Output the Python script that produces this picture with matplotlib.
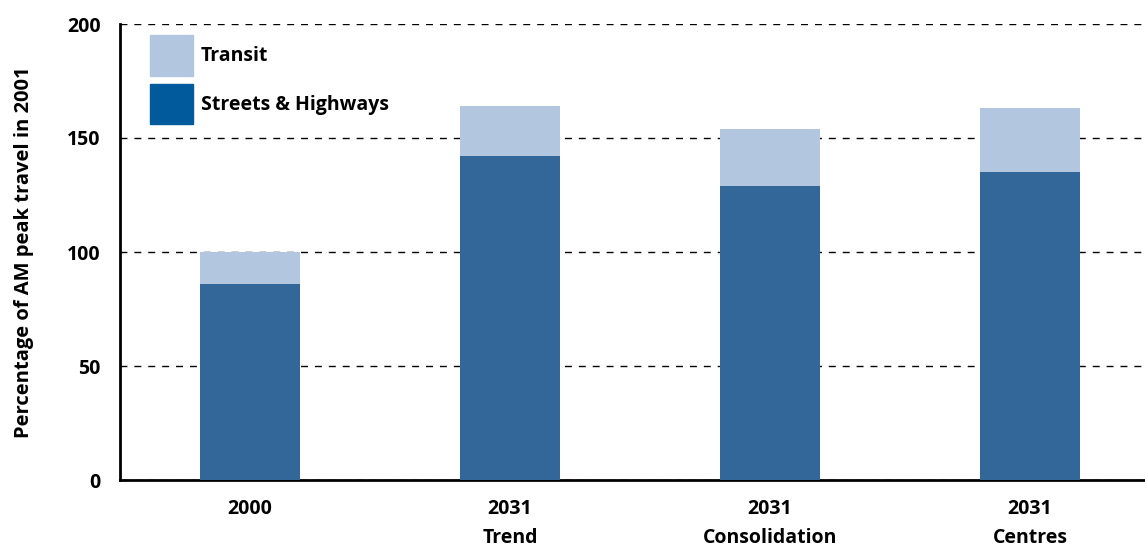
import matplotlib.pyplot as plt
import numpy as np
from matplotlib.patches import Patch

categories = ['2000', '2031\nTrend', '2031\nConsolidation', '2031\nCentres']
streets = [86, 142, 129, 135]
transit = [14, 22, 25, 28]

plt.rcParams['font.family'] = ['Open Sans', 'DejaVu Sans']
plt.rcParams['font.weight'] = 'bold'

fig = plt.figure(figsize=(11.45, 5.46), dpi=100)
ax = fig.add_axes([120 / 1145, 66 / 546, 1 - 120 / 1145, 456 / 546])

x = np.arange(len(categories))
w = 0.385
ax.bar(x, streets, width=w, color='#336699', zorder=3)
ax.bar(x, transit, width=w, bottom=streets, color='#b3c6e0', zorder=3)

ax.set_xlim(-0.5, 3 + 115 / 260)
ax.set_ylim(0, 200)
ax.set_yticks([0, 50, 100, 150, 200])
ax.set_xticks(x)
ax.set_xticklabels(categories, fontsize=14, fontweight='bold', linespacing=1.55)
ax.tick_params(axis='y', labelsize=14, length=0, pad=14)
ax.tick_params(axis='x', length=0, pad=14)
for lab in ax.get_yticklabels():
    lab.set_fontweight('bold')

ax.yaxis.grid(True, linestyle=(0, (5, 5)), color='black', linewidth=1, zorder=0)
ax.set_axisbelow(True)
for s in ['top', 'right']:
    ax.spines[s].set_visible(False)
ax.spines['left'].set_linewidth(2)
ax.spines['bottom'].set_linewidth(2)

ax.set_ylabel('Percentage of AM peak travel in 2001', fontsize=14.5,
              fontweight='bold', labelpad=24)

handles = [Patch(facecolor='#b3c6e0', edgecolor='#b3c6e0'),
           Patch(facecolor='#005a9c', edgecolor='#005a9c')]
ax.legend(handles, ['Transit', 'Streets & Highways'], loc='upper left',
          frameon=False, handlelength=2.2, handleheight=2.85,
          labelspacing=0.4, handletextpad=0.4, borderaxespad=0.0,
          bbox_to_anchor=(0.022, 0.993), prop={'weight': 'bold', 'size': 14})

fig.savefig('out.png')
